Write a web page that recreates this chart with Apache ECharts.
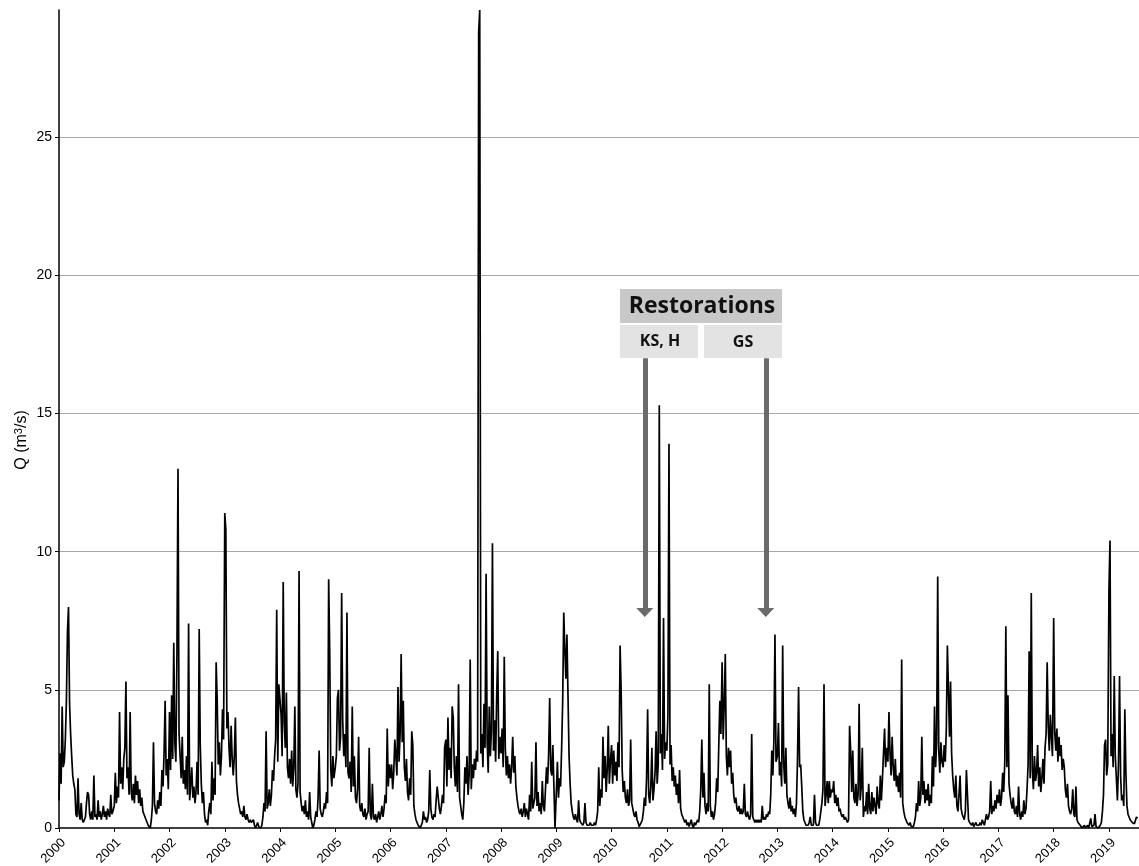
<!DOCTYPE html>
<html>
<head>
<meta charset="utf-8">
<script src="https://cdn.jsdelivr.net/npm/echarts@6/dist/echarts.min.js"></script>
<style>
  html, body { margin: 0; padding: 0; background: #fff; }
  #chart { width: 1139px; height: 866px; }
</style>
</head>
<body>
<div id="chart"></div>
<script>
// weekly discharge Q (m3/s), one array per year, week 0 = 1 Jan
const q2000 = [1.0,2.7,1.6,4.4,2.2,2.4,3.2,4.6,7.1,8.0,4.5,3.4,2.6,1.9,1.6,1.4,0.5,0.4,1.8,0.5,0.3,0.9,0.3,0.2,0.15,0.4,0.9,1.3,1.2,0.5,0.3,0.6,0.3,1.9,0.4,0.5,0.3,1.0,0.4,0.6,0.3,0.5,0.8,0.4,0.6,0.3,0.7,0.5,0.4,1.2,0.5,0.6]
const q2001 = [0.8,2.0,0.9,1.5,1.1,4.2,1.6,2.2,1.4,2.5,2.9,5.3,1.8,2.2,1.2,4.2,1.3,1.0,1.6,0.9,1.9,1.2,1.7,0.9,1.4,0.8,1.1,0.6,0.5,0.4,0.3,0.2,0.1,0.05,0.0,0.3,0.8,3.1,0.9,0.6,0.5,1.0,0.7,1.3,0.8,2.1,1.5,2.7,4.6,1.9,2.5,1.4]
const q2002 = [4.2,2.1,4.8,2.5,6.7,3.1,2.4,6.3,13.0,3.4,2.6,1.8,3.3,1.6,2.1,1.4,2.6,1.2,7.4,1.0,1.6,2.2,1.1,1.5,0.9,1.3,2.4,1.2,7.2,3.0,1.6,0.9,1.3,0.5,0.2,0.3,0.1,0.6,0.9,0.5,2.4,1.0,1.8,1.2,6.0,4.6,2.3,3.1,1.9,2.6,4.3,3.2]
const q2003 = [11.4,10.8,3.6,4.2,2.9,2.2,3.7,2.5,1.9,2.6,4.0,1.7,1.2,0.9,0.7,0.5,0.6,0.4,0.8,0.4,0.3,0.5,0.3,0.2,0.3,0.2,0.15,0.3,0.1,0.0,0.1,0.2,0.05,0.0,0.0,0.1,0.4,0.9,0.6,3.5,0.7,0.9,1.4,0.8,1.2,2.1,1.7,2.6,3.2,7.9,2.4,5.2]
const q2004 = [5.2,4.1,2.6,8.9,3.8,2.9,4.9,2.2,1.8,2.5,1.6,2.8,1.5,2.2,4.4,1.4,1.1,1.6,9.3,1.3,0.9,0.6,0.8,0.5,1.0,0.4,0.6,0.3,1.3,0.4,0.2,0.0,0.1,0.3,0.6,0.4,1.1,2.8,0.7,0.5,0.4,0.6,0.9,0.7,1.3,0.9,9.0,6.4,2.1,1.5,2.6,1.8]
const q2005 = [2.2,2.6,4.7,5.0,2.8,3.3,8.5,3.9,2.6,3.4,2.2,7.8,2.0,1.8,2.4,1.3,4.4,1.5,2.6,1.1,0.9,1.4,3.3,0.8,0.6,0.9,0.5,0.4,0.7,0.3,0.5,0.6,2.9,0.5,0.3,1.6,0.4,0.3,0.5,0.2,0.4,0.6,0.3,0.5,0.8,0.4,0.7,1.2,0.9,3.6,1.5,2.3]
const q2006 = [1.8,2.3,1.4,2.0,3.2,2.6,1.9,5.1,2.4,3.4,6.3,3.1,4.6,2.2,1.7,2.5,1.3,1.0,1.8,1.2,3.5,3.0,0.8,0.5,0.3,0.2,0.1,0.05,0.0,0.1,0.2,0.6,0.3,0.4,0.2,0.3,0.6,2.1,0.7,0.4,0.3,0.5,0.4,1.0,1.5,1.1,0.7,0.5,0.8,1.2,0.9,2.9]
const q2007 = [3.2,1.5,4.0,2.1,2.9,1.8,4.4,4.0,2.2,1.5,2.6,1.3,5.2,1.1,0.8,0.5,0.3,0.9,2.2,1.6,2.6,1.2,1.9,6.1,1.4,2.3,1.8,2.5,2.1,2.8,2.4,28.8,29.6,2.7,3.4,2.2,4.5,2.9,9.2,3.1,2.0,4.4,2.6,3.5,10.3,2.8,3.9,2.4,4.8,6.4,2.5,3.3]
const q2008 = [2.7,3.6,2.2,6.2,2.9,1.9,2.6,1.8,2.3,1.6,2.2,3.3,2.0,2.6,1.5,1.1,0.8,0.6,0.5,0.7,0.4,0.6,0.9,0.4,0.7,0.5,0.3,1.2,0.6,2.4,0.7,0.9,1.1,3.1,0.8,1.3,0.6,0.9,0.5,1.7,0.8,0.6,1.4,2.2,1.6,2.7,4.7,2.1,1.9,3.0,1.5,0.0]
const q2009 = [1.3,2.4,1.1,1.8,1.5,2.9,4.6,7.8,6.5,5.4,7.0,4.8,2.6,1.6,0.9,0.6,0.4,0.3,0.5,0.3,0.2,1.0,0.3,0.2,0.15,0.1,0.2,0.9,0.2,0.1,0.15,0.1,0.2,0.1,0.05,0.1,0.2,0.1,0.3,0.6,2.2,0.8,1.4,1.1,3.3,1.8,2.6,1.3,2.1,3.7,1.6,2.4]
const q2010 = [3.0,1.6,2.8,1.9,2.4,1.7,3.1,2.2,6.6,5.0,2.1,1.3,1.7,1.1,0.9,1.4,0.8,1.0,3.2,0.9,0.7,0.5,0.4,0.6,0.3,0.2,0.05,0.1,0.2,0.3,0.6,1.1,0.8,1.8,4.3,1.2,0.9,1.5,2.9,1.0,1.4,2.0,3.5,1.6,2.3,15.3,2.7,3.4,2.1,7.6,2.5,3.1]
const q2011 = [2.8,4.1,13.9,2.3,3.0,1.7,2.2,1.5,1.9,1.2,1.6,0.9,2.1,0.7,0.5,0.4,0.3,0.2,0.3,0.1,0.2,0.05,0.1,0.3,0.1,0.0,0.2,0.1,0.05,0.3,0.2,0.6,1.4,3.2,1.1,2.0,0.8,0.5,0.9,0.6,5.2,0.8,0.4,0.6,0.3,0.5,0.9,1.8,1.3,3.0,4.6,3.4]
const q2012 = [6.0,3.2,4.5,6.3,2.6,1.9,2.9,2.2,2.8,1.6,2.0,1.2,0.9,1.1,0.7,0.6,0.8,0.5,0.7,0.5,0.6,1.6,0.5,0.4,0.6,0.4,0.3,0.5,3.4,0.4,0.3,0.2,0.3,0.2,0.3,0.2,0.3,0.2,0.8,0.3,0.4,0.3,0.5,0.4,0.6,0.5,1.2,2.8,1.9,3.2,7.0,2.4]
const q2013 = [2.6,3.8,1.9,2.4,1.5,6.6,2.3,1.6,2.9,1.2,0.9,0.7,1.1,0.6,0.8,0.5,0.7,0.4,0.9,2.5,5.1,2.2,2.3,1.5,0.6,0.3,0.2,0.1,0.05,0.1,0.2,0.4,0.1,0.05,0.1,1.2,0.2,0.1,0.05,0.1,0.3,0.6,0.9,1.4,5.2,0.8,1.2,1.7,0.9,1.7,1.1,1.4]
const q2014 = [1.3,1.7,0.9,1.2,0.8,1.1,0.6,0.7,0.5,0.4,0.5,0.3,0.4,0.3,0.2,0.3,3.7,2.8,1.3,2.8,1.1,0.9,1.6,0.8,1.2,4.5,1.0,1.5,2.9,0.4,0.8,0.6,1.3,0.5,1.6,0.7,0.5,1.3,0.6,1.1,0.8,0.5,1.5,0.9,0.7,1.9,1.0,1.8,2.7,3.6,2.2,2.9]
const q2015 = [2.4,4.2,2.7,1.9,3.3,2.2,1.7,2.5,1.5,1.9,1.3,2.0,1.1,6.1,0.9,0.6,0.4,0.3,0.2,0.15,0.1,0.2,0.05,0.0,0.05,0.2,0.4,0.9,0.6,1.7,0.8,1.1,3.3,1.2,1.7,0.9,1.4,1.0,1.6,0.8,1.2,0.9,2.6,1.5,4.4,2.2,3.1,9.1,2.8,2.0,3.1,2.4]
const q2016 = [2.2,3.0,2.4,3.6,6.6,5.0,3.3,5.3,2.7,1.9,1.4,1.1,1.9,0.8,0.6,1.2,1.9,0.7,0.5,0.4,0.3,0.6,2.1,2.1,0.3,0.2,0.15,0.1,0.2,0.05,0.1,0.2,0.1,0.05,0.1,0.2,0.1,0.3,0.2,0.1,0.3,0.5,0.3,0.4,0.6,1.7,0.5,0.8,0.6,1.0,0.7,1.2]
const q2017 = [0.9,1.4,0.8,1.1,2.0,1.3,2.4,7.3,2.2,4.8,1.6,1.2,0.9,0.7,1.1,0.6,0.5,0.8,0.4,1.5,0.5,0.3,0.6,0.4,1.0,0.5,0.7,1.4,2.3,6.4,1.8,8.5,2.1,1.4,2.6,1.7,2.0,3.0,1.5,2.2,1.3,1.8,2.5,1.6,2.9,3.4,6.0,3.7,2.8,4.1,3.3,2.6]
const q2018 = [7.6,3.5,2.8,3.6,2.4,3.3,2.6,3.0,2.1,2.5,2.2,1.4,1.1,1.6,0.8,0.6,0.5,0.7,1.4,0.5,0.4,1.5,0.3,0.2,0.15,0.1,0.05,0.0,0.05,0.1,0.0,0.05,0.1,0.0,0.05,0.35,0.05,0.0,0.1,0.5,0.05,0.1,0.0,0.05,0.1,0.2,0.6,1.2,3.0,3.2,1.9,2.3]
const q2019 = [8.6,10.4,2.6,3.4,2.2,5.5,2.6,1.8,1.0,2.3,5.5,1.9,1.0,1.2,0.8,4.3,2.0,0.8,0.5,0.4,0.3,0.3,0.2,0.2,0.15,0.2,0.4,0.35]

const years = [2000, 2001, 2002, 2003, 2004, 2005, 2006, 2007, 2008, 2009,
  2010, 2011, 2012, 2013, 2014, 2015, 2016, 2017, 2018, 2019]
const weekly = [q2000, q2001, q2002, q2003, q2004, q2005, q2006, q2007, q2008, q2009,
  q2010, q2011, q2012, q2013, q2014, q2015, q2016, q2017, q2018, q2019]

const yTicks = [0, 5, 10, 15, 20, 25]
const yMax = 29.6
const xStart = 2000
const xEnd = 2019.544

// restoration dates (decimal year) and arrow span (m3/s)
const restorationNames = ['KS, H', 'GS']
const restorationDates = [2010.6, 2012.79]
const arrowTop = 17.0
const arrowBottom = 7.8

// decimal-year / value pairs for the line
const series = []
years.forEach((yr, k) => {
  const days = (yr % 4 === 0) ? 366 : 365
  weekly[k].forEach((v, i) => {
    series.push([yr + (i * 7) / days, v])
  })
})

const font = 'Liberation Sans, Arial, sans-serif'

const chart = echarts.init(document.getElementById('chart'))
chart.setOption({
  animation: false,
  backgroundColor: '#fff',
  grid: {
    left: 59,
    right: 0,
    top: 10,
    bottom: 38,
    outerBoundsMode: 'none'
  },
  xAxis: {
    type: 'value',
    min: xStart,
    max: xEnd,
    interval: 1,
    axisLine: { show: true, onZero: false, lineStyle: { color: '#000', width: 1.5 } },
    axisTick: { show: true, length: 4, lineStyle: { color: '#000', width: 1 } },
    axisLabel: {
      rotate: 45,
      margin: 8,
      verticalAlign: 'top',
      color: '#000',
      fontSize: 13,
      fontFamily: font,
      showMaxLabel: false,
      formatter: v => (Math.abs(v - Math.round(v)) < 1e-6 ? String(Math.round(v)) : '')
    },
    splitLine: { show: false }
  },
  yAxis: {
    type: 'value',
    min: 0,
    max: yMax,
    interval: 5,
    axisLine: { show: true, lineStyle: { color: '#000', width: 1.5 } },
    axisTick: { show: true, length: 4, lineStyle: { color: '#000', width: 1 } },
    axisLabel: {
      color: '#000',
      fontSize: 14,
      margin: 7,
      fontFamily: font,
      showMaxLabel: false,
      formatter: v => (yTicks.indexOf(v) >= 0 ? String(v) : '')
    },
    splitLine: {
      show: true,
      showMinLine: false,
      showMaxLine: false,
      lineStyle: { color: '#a8a8a8', width: 1.2 }
    }
  },
  series: [
    {
      type: 'line',
      data: series,
      showSymbol: false,
      sampling: null,
      lineStyle: { color: '#000', width: 1.7 },
      z: 3,
      markLine: {
        silent: true,
        symbol: ['none', 'triangle'],
        symbolSize: [17, 9],
        label: { show: false },
        lineStyle: { color: '#6b6b6b', width: 5, type: 'solid' },
        data: restorationDates.map(d => [
          { coord: [d, arrowTop] },
          { coord: [d, arrowBottom] }
        ])
      }
    }
  ],
  graphic: [
    {
      type: 'text',
      x: 22, y: 440,
      rotation: Math.PI / 2,
      style: {
        text: 'Q (m{sup|3}/s)',
        align: 'center', verticalAlign: 'middle',
        font: '16px ' + font,
        fill: '#000',
        rich: {
          sup: { fontSize: 11, fontFamily: font, verticalAlign: 'top', padding: [0, 0, 6, 0], fill: '#000' }
        }
      }
    },
    {
      type: 'rect',
      shape: { x: 620, y: 289, width: 162, height: 34 },
      style: { fill: '#c8c8c8' }
    },
    {
      type: 'text',
      x: 702, y: 306,
      style: {
        text: 'Restorations',
        align: 'center', verticalAlign: 'middle',
        font: 'bold 23px "Open Sans", sans-serif',
        fill: '#111'
      }
    },
    {
      type: 'rect',
      shape: { x: 620, y: 325, width: 78, height: 33 },
      style: { fill: '#e3e3e3' }
    },
    {
      type: 'text',
      x: 660, y: 341,
      style: {
        text: restorationNames[0],
        align: 'center', verticalAlign: 'middle',
        font: 'bold 16px "Open Sans", sans-serif',
        fill: '#111'
      }
    },
    {
      type: 'rect',
      shape: { x: 704, y: 325, width: 78, height: 33 },
      style: { fill: '#e3e3e3' }
    },
    {
      type: 'text',
      x: 743, y: 342,
      style: {
        text: restorationNames[1],
        align: 'center', verticalAlign: 'middle',
        font: 'bold 16px "Open Sans", sans-serif',
        fill: '#111'
      }
    }
  ]
})
</script>
</body>
</html>
